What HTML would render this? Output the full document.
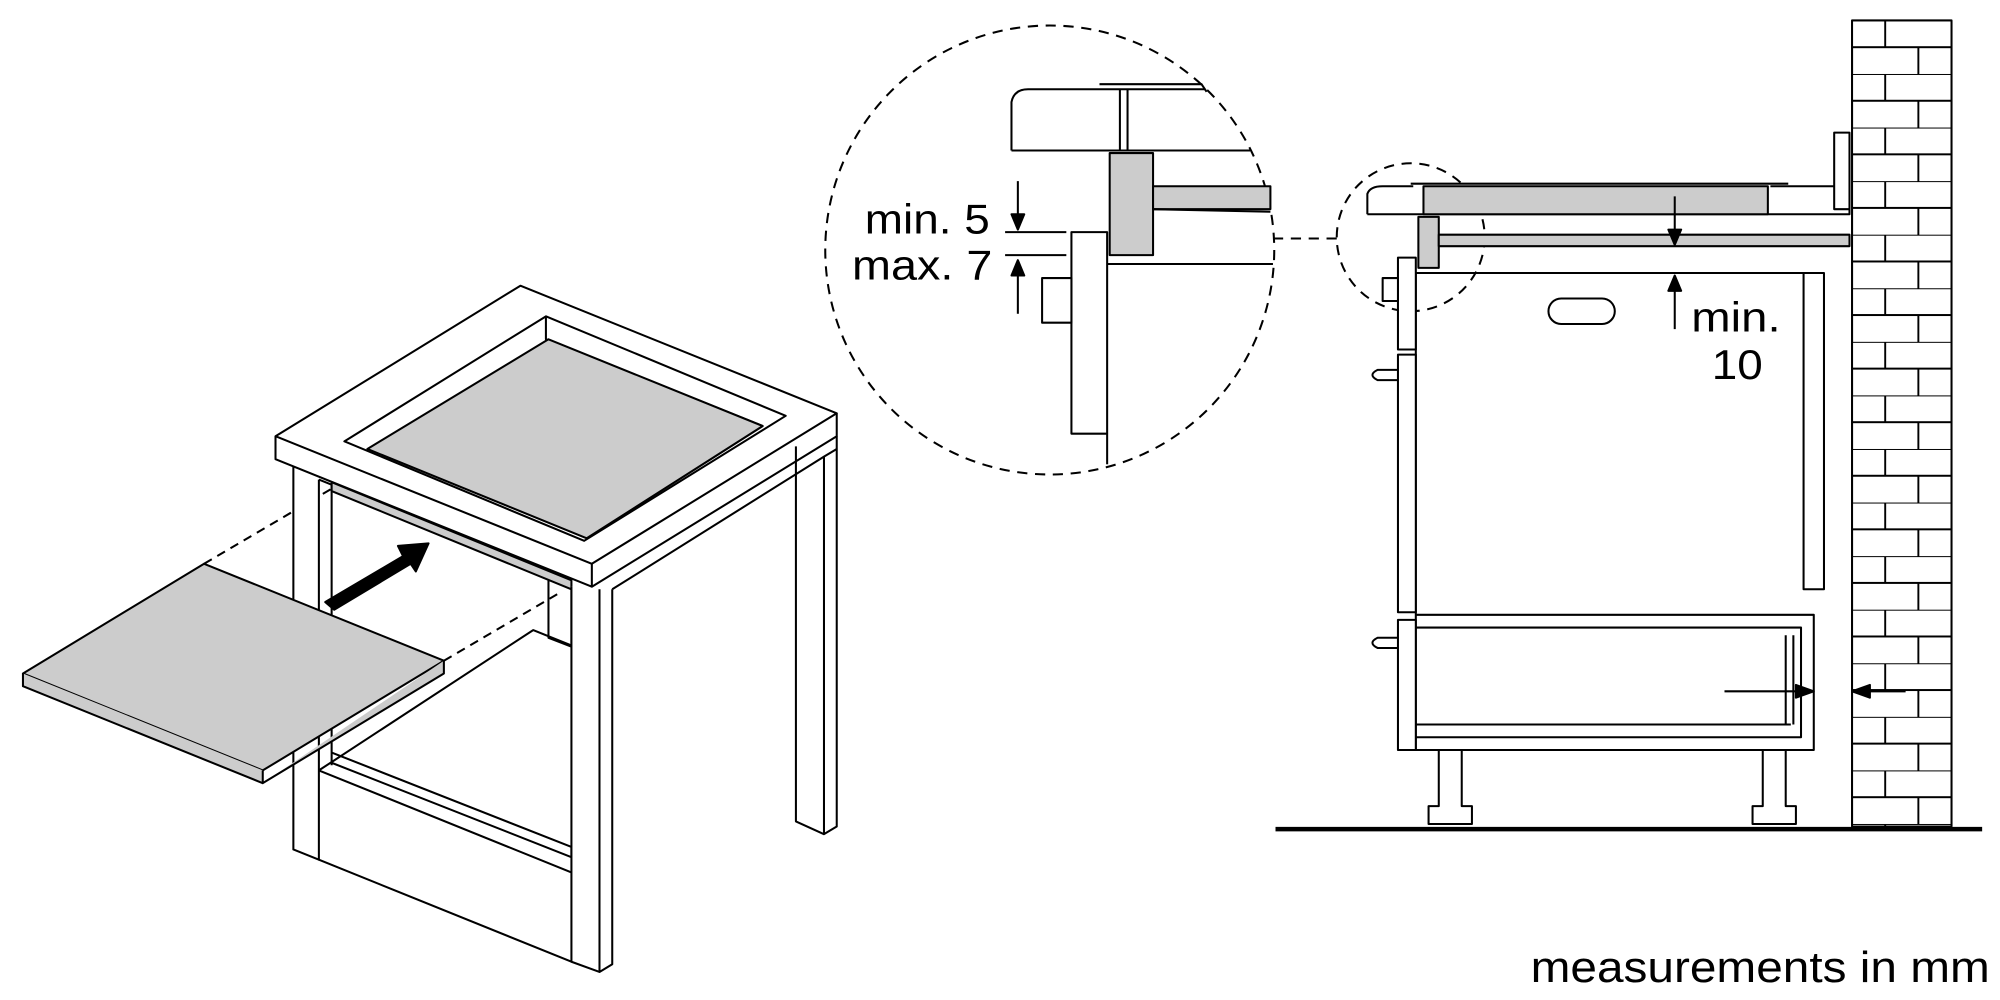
<!DOCTYPE html>
<html><head><meta charset="utf-8"><style>
html,body{margin:0;padding:0;background:#fff;}
svg{display:block}
text{font-family:"Liberation Sans",sans-serif;fill:#000}
</style></head><body>
<svg width="2000" height="1000" viewBox="0 0 1568 784" preserveAspectRatio="none" xmlns="http://www.w3.org/2000/svg">
<defs>
<pattern id="brick" x="1452" y="16" width="78" height="42" patternUnits="userSpaceOnUse">
<rect width="78" height="42" fill="#fff"/>
<path d="M0 0H78M0 21H78M26 0V21M0 21V42M52 21V42" stroke="#000" stroke-width="1.5" fill="none"/>
</pattern>
</defs>
<g fill="none" stroke="#000" stroke-width="1.6" stroke-linejoin="round">
<path d="M160 442 L262 382 M348 518 L440 464" stroke-dasharray="7 5"/>
<path d="M230 366 V666 L250 674 V376" fill="#fff"/>
<path d="M250 376 L260 380 V600" />
<path d="M260 378 L448 455 V462 L260 385 Z" fill="#ccc"/>
<path d="M430 455 V500 L448 507 V462"/>
<path d="M250 604 L418 494 L448 506"/>
<path d="M260 590 L448 664 V672 L260 598 M250 604 L448 684 M250 674 L448 754"/>
<path d="M624 350 V644 L646 654 L656 648 V342" fill="#fff"/>
<path d="M646 358 V654"/>
<path d="M448 460 V754 L470 762 L480 756 V462" fill="#fff"/>
<path d="M470 462 V762"/>
<path d="M480 462 L646 358 L656 352"/>
<path d="M216 342 L408 224 L656 324 L464 442 Z" fill="#fff"/>
<path d="M216 342 V360 L464 460 V442 M464 460 L656 342 V324"/>
<path d="M270 346 L428 248 L616 326 L458 424 Z" fill="#fff"/>
<path d="M428 248 V266 L598 334"/>
<path d="M288 352 L430 266 L598 334 L460 422 Z" fill="#ccc"/>
<path d="M18 528 L160 442 L348 518 L206 604 Z" fill="#ccc"/>
<path d="M18 528 V538 L206 614 V604 M206 614 L348 528 V518" fill="#ccc"/>
<path d="M255 472 L316 436 L312 428 L336 426 L326 448 L322 442 L262 478 Z" fill="#000"/>

<circle cx="823" cy="196" r="176" stroke-dasharray="8 6"/>
<path d="M998 187 H1048" stroke-dasharray="8 6"/>
<path d="M793 118 V80 Q795 70 806 70 H945 M793 118 H980"/>
<path d="M862 66 H942 L946 72 M878 70 V118 M884 70 V118"/>
<rect x="870" y="120" width="34" height="80" fill="#ccc"/>
<rect x="904" y="146" width="92" height="18" fill="#ccc"/>
<path d="M904 164 L996 166"/>
<path d="M868 207 H998"/>
<rect x="840" y="182" width="28" height="158" fill="#fff"/>
<path d="M868 340 V364"/>
<rect x="817" y="218" width="23" height="35" fill="#fff"/>
<path d="M788 182 H836 M788 200 H836"/>
<path d="M798 142 V172"/><path d="M798 216 V246"/>
<path d="M793 168 L798 180 L803 168 Z M793 216 L798 204 L803 216 Z" fill="#000"/>

<rect x="1452" y="16" width="78" height="632" fill="url(#brick)"/>
<path d="M1000 650 H1554" stroke-width="3.5"/>
<circle cx="1106" cy="186" r="58" stroke-dasharray="8 6"/>
<path d="M1072 168 V152 Q1074 146 1084 146 H1108 M1072 168 H1450 V164 H1438 V104 H1450 V168"/>
<path d="M1388 146 H1438"/>
<path d="M1106 144 H1402"/>
<rect x="1116" y="146" width="270" height="22" fill="#ccc"/>
<rect x="1112" y="170" width="16" height="40" fill="#ccc"/>
<rect x="1128" y="184" width="322" height="9" fill="#ccc"/>
<path d="M1110 214 H1430 V462 H1414 V214"/>
<path d="M1110 214 V588"/>
<rect x="1096" y="202" width="14" height="72" fill="#fff"/>
<rect x="1084" y="218" width="12" height="18" fill="#fff"/>
<rect x="1096" y="278" width="14" height="202" fill="#fff"/>
<rect x="1096" y="486" width="14" height="102" fill="#fff"/>
<path d="M1096 290 H1080 Q1072 294 1080 298 H1096 M1096 500 H1080 Q1072 504 1080 508 H1096"/>
<rect x="1214" y="234" width="52" height="20" rx="10" fill="#fff"/>
<path d="M1110 482 H1422 V588 H1110 M1110 492 H1412 V578 H1110 M1110 568 H1404 M1400 498 V568 M1406 498 V568"/>
<path d="M1128 588 V632 H1120 V646 H1154 V632 H1146 V588 M1382 588 V632 H1374 V646 H1408 V632 H1400 V588"/>
<path d="M1313 154 V182 M1313 216 V258"/>
<path d="M1308 180 L1313 192 L1318 180 Z M1308 228 L1313 216 L1318 228 Z" fill="#000"/>
<path d="M1352 542 H1410 M1464 542 H1494"/>
<path d="M1408 537 L1422 542 L1408 547 Z M1466 537 L1452 542 L1466 547 Z" fill="#000"/>
</g>
<text x="678" y="183" font-size="33" textLength="98" lengthAdjust="spacingAndGlyphs">min. 5</text>
<text x="668" y="219" font-size="33" textLength="110" lengthAdjust="spacingAndGlyphs">max. 7</text>
<text x="1326" y="260" font-size="33" textLength="70" lengthAdjust="spacingAndGlyphs">min.</text>
<text x="1342" y="297" font-size="33" textLength="40" lengthAdjust="spacingAndGlyphs">10</text>
<text x="1200" y="770" font-size="34" textLength="360" lengthAdjust="spacingAndGlyphs">measurements in mm</text>
</svg>
</body></html>
